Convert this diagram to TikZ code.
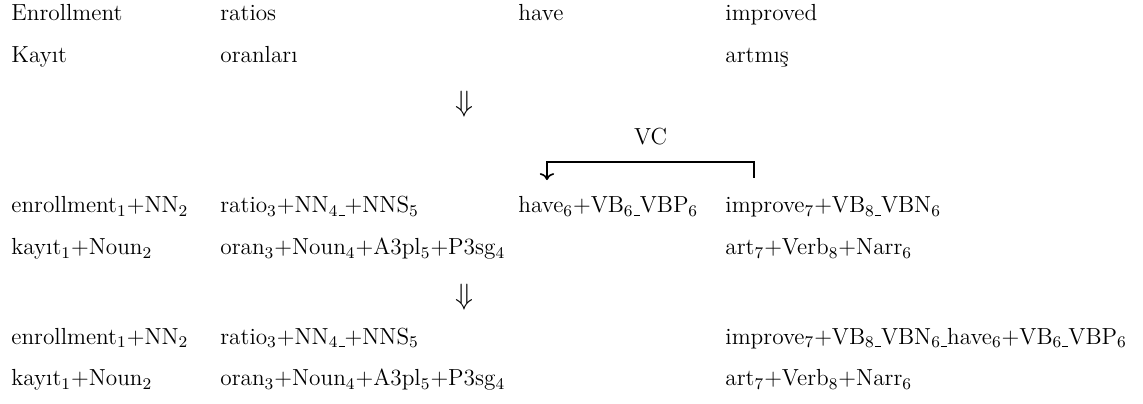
\documentclass[tikz,border=0pt]{standalone}
\usepackage{fontspec}
\usepackage{amsmath}
\usepackage{tikz}
\usetikzlibrary{arrows, arrows.meta}
\newcommand{\lowdash}{\rule[-1.4pt]{3pt}{0.4pt}}
\tikzset{
	font={\fontsize{11.4pt}{13.5pt}\selectfont}}
\tikzstyle{word} = [anchor=base west, inner sep=0]
\tikzstyle{stepdown} = [inner sep=0, font=\fontsize{15.5pt}{18pt}\selectfont]
\tikzstyle{bracket} = [thick, ->]

\begin{document}
\begin{tikzpicture}
\useasboundingbox (0,0) rectangle (19.683,-6.940);

% Satz
\node[word] (enrollEn) at (0.189,-0.356) {Enrollment};
\node[word] (ratiosEn) at (3.788,-0.356) {ratios};
\node[word] (haveEn) at (8.920,-0.356) {have};
\node[word] (improvedEn) at (12.485,-0.356) {improved};
\node[word] (kayitTr) at (0.189,-1.085) {Kayıt};
\node[word] (oranTr) at (3.788,-1.085) {oranları};
\node[word] (artmisTr) at (12.485,-1.085) {artmış};

\node[stepdown] (stepone) at (8.007,-1.791) {$\Downarrow$};

% Analyse
\node[word] (enrollTag) at (0.189,-3.668) {enrollment$_1$+NN$_2$};
\node[word] (ratioTag) at (3.788,-3.668) {ratio$_3$+NN$_4$\lowdash+NNS$_5$};
\node[word] (haveTag) at (8.920,-3.668) {have$_6$+VB$_6$\lowdash VBP$_6$};
\node[word] (improveTag) at (12.485,-3.668) {improve$_7$+VB$_8$\lowdash VBN$_6$};
\node[word] (kayitTag) at (0.189,-4.391) {kayıt$_1$+Noun$_2$};
\node[word] (oranTag) at (3.788,-4.391) {oran$_3$+Noun$_4$+A3pl$_5$+P3sg$_4$};
\node[word] (artTag) at (12.485,-4.391) {art$_7$+Verb$_8$+Narr$_6$};

% VC
\coordinate (vcright) at (12.984,-3.065);
\coordinate (vcleft) at (9.419,-3.100);
\coordinate (vctop) at (0,-2.790);
\draw[bracket] (vcright) -- (vcright |- vctop) -- node[above, inner sep=0, yshift=8pt] (vclabel) {VC} (vcleft |- vctop) -- (vcleft);

\node[stepdown] (steptwo) at (8.007,-5.114) {$\Downarrow$};

% Ergebnis
\node[word] (enrollRes) at (0.189,-5.924) {enrollment$_1$+NN$_2$};
\node[word] (ratioRes) at (3.788,-5.924) {ratio$_3$+NN$_4$\lowdash+NNS$_5$};
\node[word] (improveRes) at (12.485,-5.924) {improve$_7$+VB$_8$\lowdash VBN$_6$\lowdash have$_6$+VB$_6$\lowdash VBP$_6$};
\node[word] (kayitRes) at (0.189,-6.647) {kayıt$_1$+Noun$_2$};
\node[word] (oranRes) at (3.788,-6.647) {oran$_3$+Noun$_4$+A3pl$_5$+P3sg$_4$};
\node[word] (artRes) at (12.485,-6.647) {art$_7$+Verb$_8$+Narr$_6$};

\end{tikzpicture}
\end{document}
